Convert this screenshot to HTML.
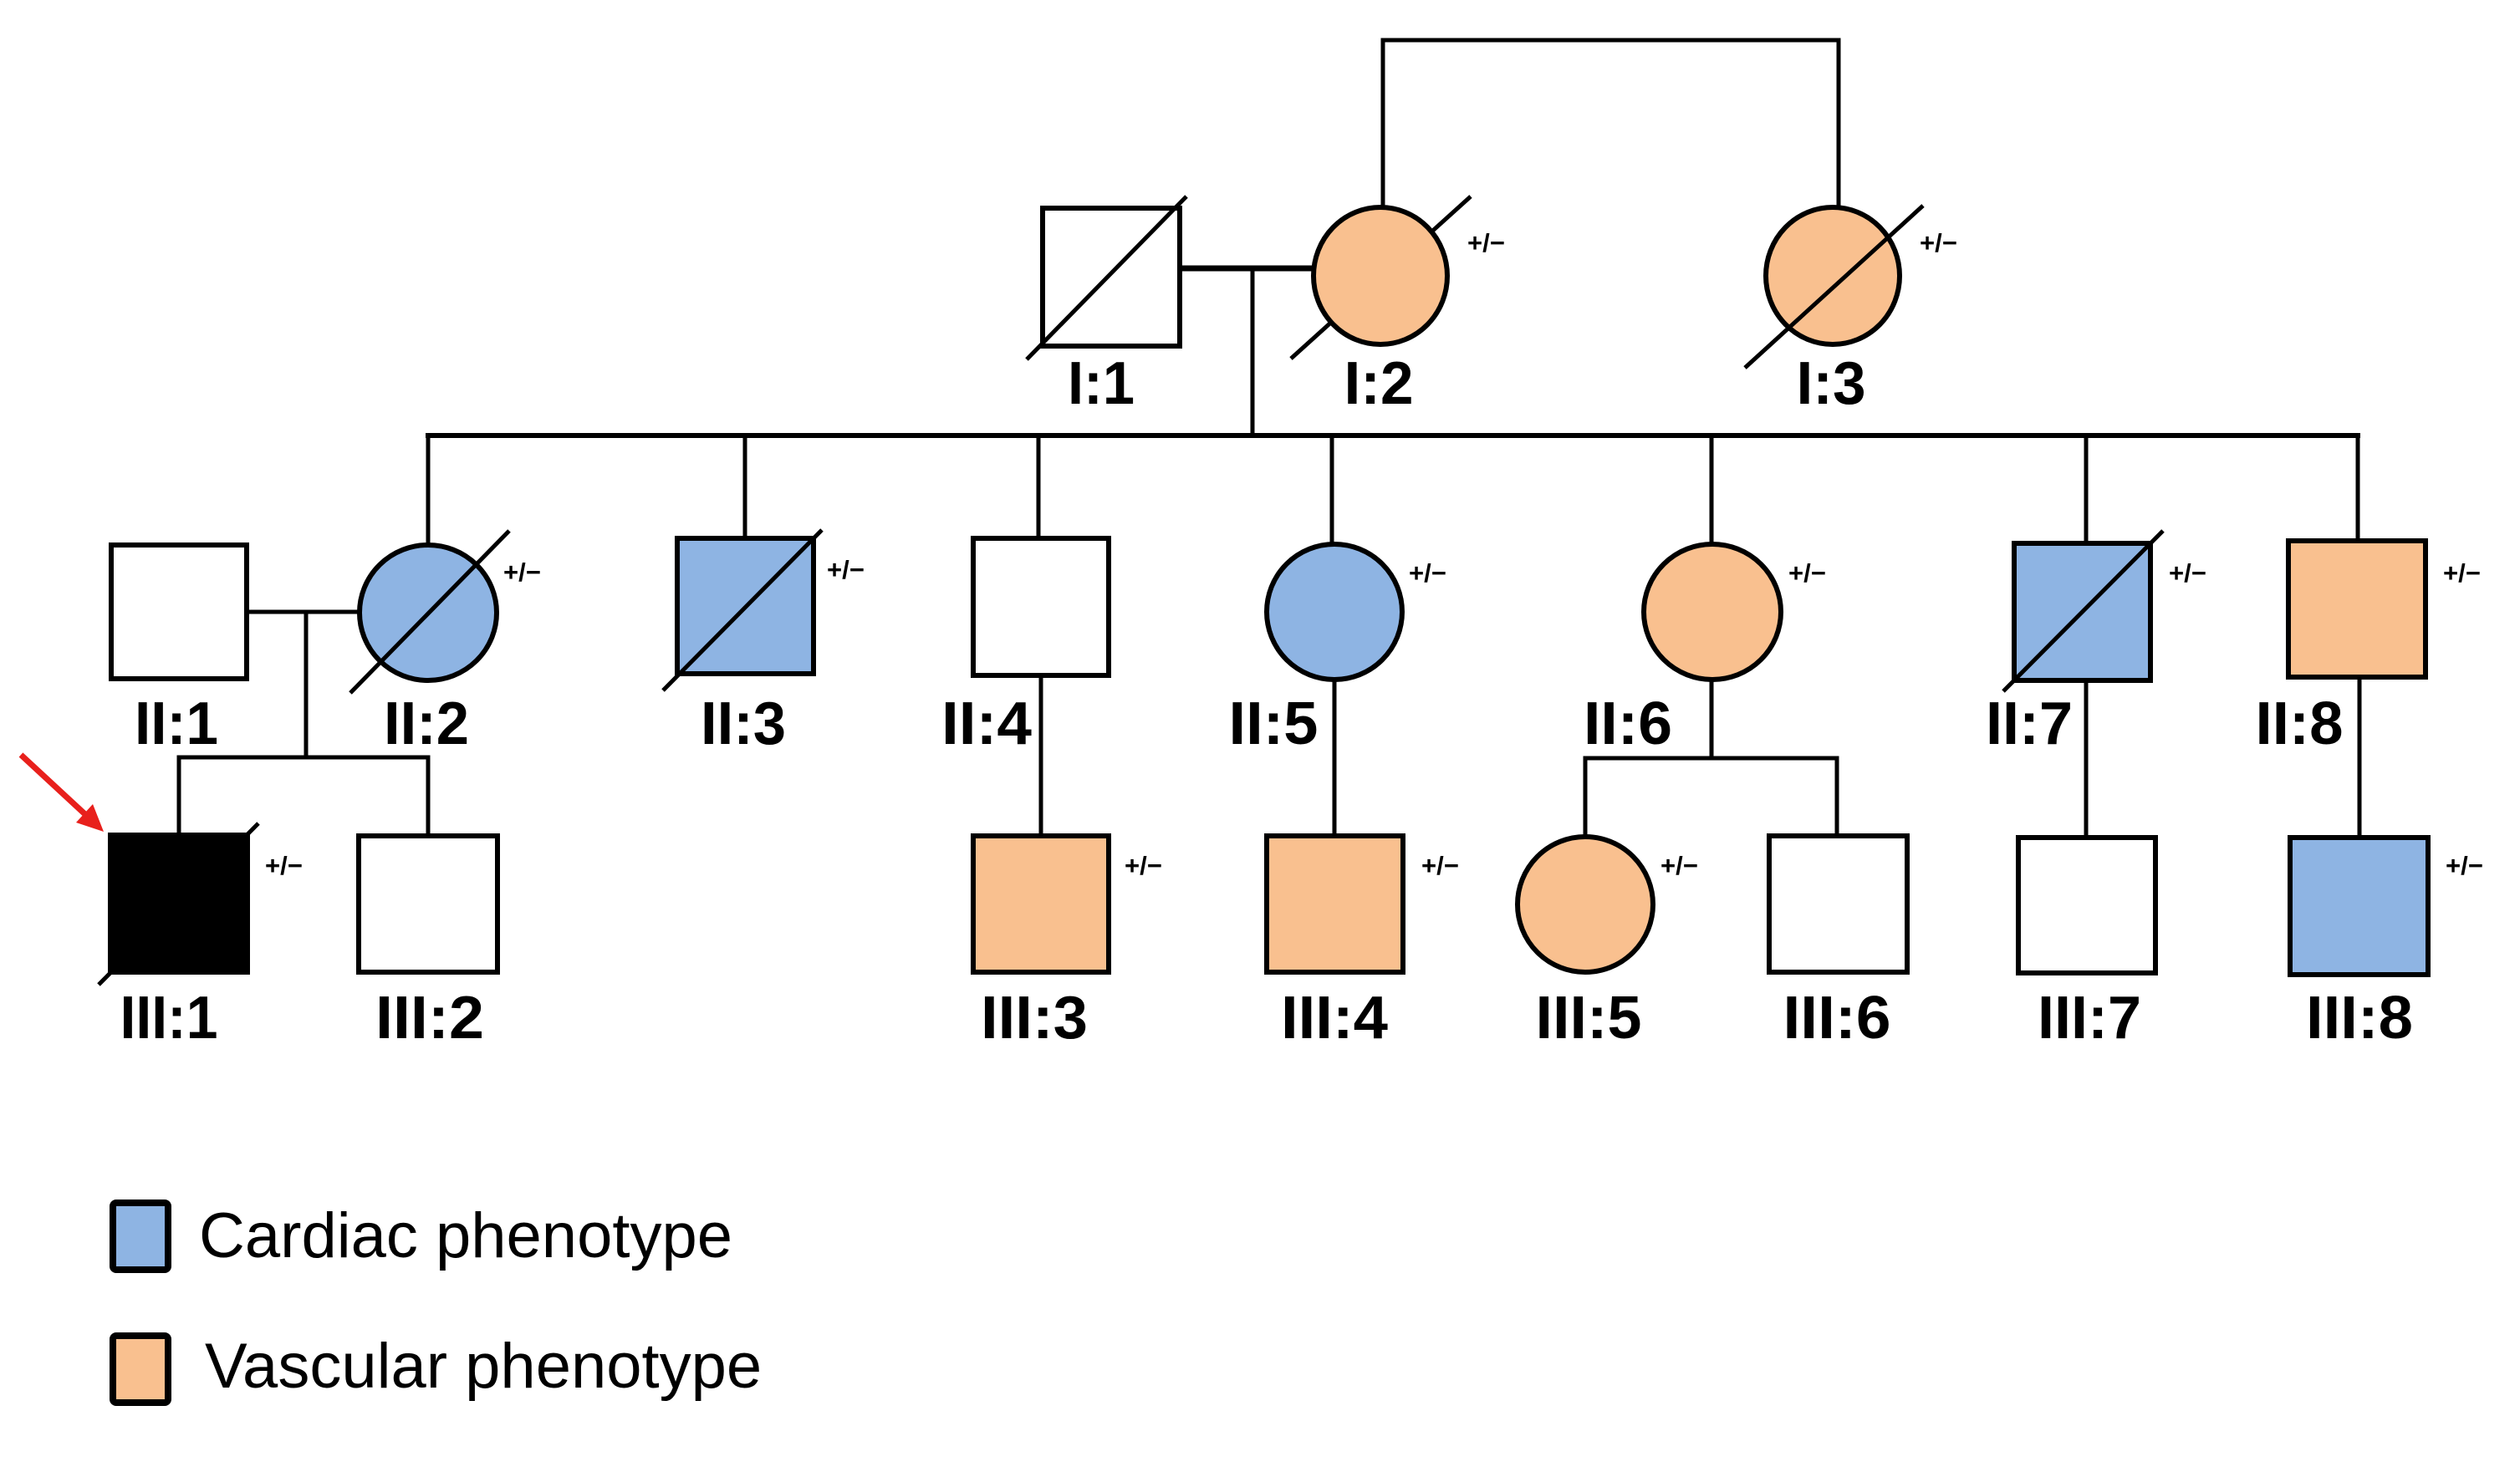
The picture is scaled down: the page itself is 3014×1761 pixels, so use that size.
<!DOCTYPE html>
<html><head><meta charset="utf-8"><style>
html,body{margin:0;padding:0;background:#fff}
svg{display:block}
text{font-family:"Liberation Sans",Arial,sans-serif}
.l{font-weight:bold;font-size:72px;text-anchor:middle}
.g{font-weight:bold;font-size:31px}
</style></head><body>
<svg width="3014" height="1761" viewBox="0 0 3014 1761" xmlns="http://www.w3.org/2000/svg">
<g stroke="#000" stroke-width="5" fill="none" stroke-linecap="square">
<polyline points="1654,248 1654,48 2199,48 2199,248"/>
<line x1="1411" y1="321" x2="1571" y2="321" stroke-width="7"/>
<line x1="1498" y1="321" x2="1498" y2="521"/>
<line x1="512" y1="521" x2="2820" y2="521" stroke-width="6"/>
<line x1="512" y1="521" x2="512" y2="651"/>
<line x1="891" y1="521" x2="891" y2="644"/>
<line x1="1242" y1="521" x2="1242" y2="644"/>
<line x1="1593" y1="521" x2="1593" y2="651"/>
<line x1="2047" y1="521" x2="2047" y2="651"/>
<line x1="2495" y1="521" x2="2495" y2="650"/>
<line x1="2820" y1="521" x2="2820" y2="647"/>
<line x1="295" y1="732" x2="429" y2="732"/>
<line x1="366" y1="732" x2="366" y2="906"/>
<polyline points="214,999 214,906 512,906 512,999"/>
<line x1="1245" y1="808" x2="1245" y2="1000"/>
<line x1="1596" y1="812" x2="1596" y2="1000"/>
<line x1="2047" y1="812" x2="2047" y2="907"/>
<polyline points="1896,1000 1896,907 2197,907 2197,1000"/>
<line x1="2495" y1="814" x2="2495" y2="1002"/>
<line x1="2822" y1="810" x2="2822" y2="1002"/>
</g>

<g stroke="#000" stroke-width="5">
<rect x="1247" y="249" width="164" height="165" fill="#fff" stroke-width="6"/>
<line x1="1228" y1="430" x2="1419" y2="235"/>
<line x1="1544" y1="429" x2="1759" y2="235"/>
<ellipse cx="1651" cy="330" rx="80" ry="82" fill="#f9c08f" stroke-width="6"/>
<ellipse cx="2192" cy="330" rx="80" ry="82" fill="#f9c08f" stroke-width="6"/>
<line x1="2087" y1="440" x2="2300" y2="246"/>
<rect x="133" y="652" width="162" height="160" fill="#fff" stroke-width="6"/>
<ellipse cx="512" cy="733" rx="82" ry="81" fill="#8eb4e3" stroke-width="6"/>
<line x1="419" y1="829" x2="609" y2="635"/>
<rect x="810" y="644" width="163" height="162" fill="#8eb4e3" stroke-width="6"/>
<line x1="793" y1="826" x2="983" y2="634"/>
<rect x="1164" y="644" width="162" height="164" fill="#fff" stroke-width="6"/>
<ellipse cx="1596" cy="732" rx="81" ry="81" fill="#8eb4e3" stroke-width="6"/>
<ellipse cx="2048" cy="732" rx="82" ry="81" fill="#f9c08f" stroke-width="6"/>
<rect x="2409" y="650" width="163" height="164" fill="#8eb4e3" stroke-width="6"/>
<line x1="2396" y1="827" x2="2587" y2="635"/>
<rect x="2737" y="647" width="164" height="163" fill="#f9c08f" stroke-width="6"/>
<line x1="118" y1="1178" x2="309" y2="985"/>
<rect x="132" y="999" width="164" height="164" fill="#000" stroke-width="6"/>
<rect x="429" y="1000" width="166" height="163" fill="#fff" stroke-width="6"/>
<rect x="1164" y="1000" width="162" height="163" fill="#f9c08f" stroke-width="6"/>
<rect x="1515" y="1000" width="163" height="163" fill="#f9c08f" stroke-width="6"/>
<ellipse cx="1896" cy="1082" rx="81" ry="81" fill="#f9c08f" stroke-width="6"/>
<rect x="2116" y="1000" width="165" height="163" fill="#fff" stroke-width="6"/>
<rect x="2414" y="1002" width="164" height="162" fill="#fff" stroke-width="6"/>
<rect x="2739" y="1002" width="165" height="164" fill="#8eb4e3" stroke-width="6"/>
</g>

<line x1="25" y1="903" x2="106" y2="978" stroke="#e8201c" stroke-width="7"/>
<polygon points="124,995 91,984 111,962" fill="#e8201c"/>

<g>
<text x="1317" y="483" class="l" textLength="80" lengthAdjust="spacingAndGlyphs">I:1</text>
<text x="1649" y="483" class="l" textLength="83" lengthAdjust="spacingAndGlyphs">I:2</text>
<text x="2190" y="483" class="l" textLength="83" lengthAdjust="spacingAndGlyphs">I:3</text>
<text x="211" y="890" class="l" textLength="100" lengthAdjust="spacingAndGlyphs">II:1</text>
<text x="510" y="890" class="l" textLength="102" lengthAdjust="spacingAndGlyphs">II:2</text>
<text x="889" y="890" class="l" textLength="102" lengthAdjust="spacingAndGlyphs">II:3</text>
<text x="1180" y="890" class="l" textLength="108" lengthAdjust="spacingAndGlyphs">II:4</text>
<text x="1523" y="890" class="l" textLength="107" lengthAdjust="spacingAndGlyphs">II:5</text>
<text x="1947" y="890" class="l" textLength="106" lengthAdjust="spacingAndGlyphs">II:6</text>
<text x="2427" y="890" class="l" textLength="104" lengthAdjust="spacingAndGlyphs">II:7</text>
<text x="2750" y="890" class="l" textLength="105" lengthAdjust="spacingAndGlyphs">II:8</text>
<text x="202" y="1242" class="l" textLength="117" lengthAdjust="spacingAndGlyphs">III:1</text>
<text x="514" y="1242" class="l" textLength="130" lengthAdjust="spacingAndGlyphs">III:2</text>
<text x="1237" y="1242" class="l" textLength="128" lengthAdjust="spacingAndGlyphs">III:3</text>
<text x="1596" y="1242" class="l" textLength="128" lengthAdjust="spacingAndGlyphs">III:4</text>
<text x="1900" y="1242" class="l" textLength="127" lengthAdjust="spacingAndGlyphs">III:5</text>
<text x="2197" y="1242" class="l" textLength="129" lengthAdjust="spacingAndGlyphs">III:6</text>
<text x="2499" y="1242" class="l" textLength="124" lengthAdjust="spacingAndGlyphs">III:7</text>
<text x="2822" y="1242" class="l" textLength="128" lengthAdjust="spacingAndGlyphs">III:8</text>
</g>
<g>
<text x="1755" y="301" class="g">+/−</text>
<text x="2296" y="301" class="g">+/−</text>
<text x="602" y="695" class="g">+/−</text>
<text x="989" y="692" class="g">+/−</text>
<text x="1685" y="696" class="g">+/−</text>
<text x="2139" y="696" class="g">+/−</text>
<text x="2594" y="696" class="g">+/−</text>
<text x="2922" y="696" class="g">+/−</text>
<text x="317" y="1046" class="g">+/−</text>
<text x="1345" y="1046" class="g">+/−</text>
<text x="1700" y="1046" class="g">+/−</text>
<text x="1986" y="1046" class="g">+/−</text>
<text x="2925" y="1046" class="g">+/−</text>
</g>

<rect x="135" y="1439" width="66" height="80" rx="4" fill="#8eb4e3" stroke="#000" stroke-width="8"/>
<rect x="135" y="1598" width="66" height="80" rx="4" fill="#f9c08f" stroke="#000" stroke-width="8"/>
<text x="238" y="1504" font-size="76">Cardiac phenotype</text>
<text x="245" y="1660" font-size="76">Vascular phenotype</text>
</svg>
</body></html>
